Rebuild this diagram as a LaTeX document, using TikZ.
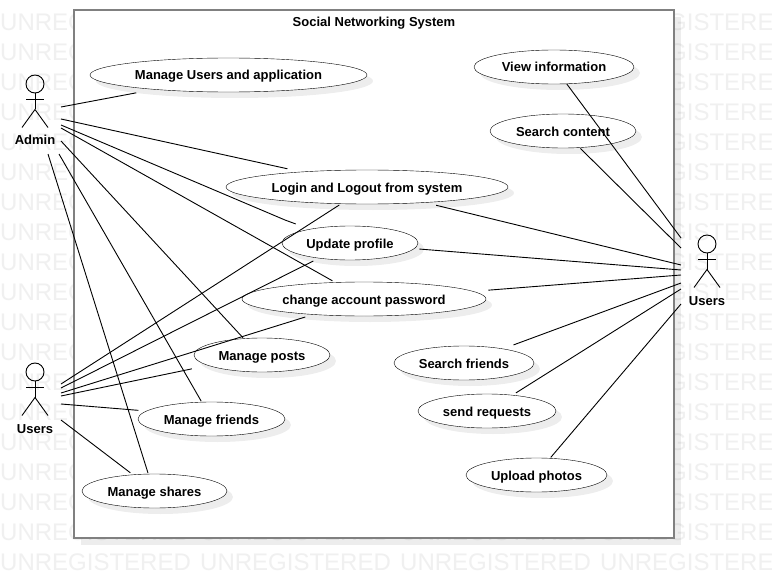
\documentclass[tikz,border=0pt]{standalone}
\usepackage{fontspec}
\setmainfont{Liberation Sans}
\usetikzlibrary{shapes.geometric, shadows}
\definecolor{framegray}{HTML}{808080}
\definecolor{markgray}{HTML}{F0F0F0}
\tikzset{%
	usecase/.style={draw, ellipse, inner sep=0mm, minimum height=34pt, fill=white,%
		text height=11pt, text depth=1pt, font=\fontsize{13}{15}\selectfont\bfseries,%
		drop shadow={shadow xshift=6pt, shadow yshift=-6pt, fill=black, opacity=0.07}},
	system/.style={draw=framegray, line width=2pt, rectangle, inner sep=0mm, fill=white,%
		minimum width=600pt, minimum height=528pt,%
		drop shadow={shadow xshift=7pt, shadow yshift=-7pt, fill=black, opacity=0.07}},
	caption/.style={inner sep=0mm, text height=11pt, text depth=1pt,%
		font=\fontsize{13}{15}\selectfont\bfseries},
	watermark/.style={inner sep=0mm, anchor=west, text=markgray, font=\fontsize{24}{28}\selectfont},
	connector/.style={line width=0.9pt},
	pics/actor/.style={code={
		\draw[connector] (0,0) circle[radius=9pt];
		\draw[connector] (-9,15) -- (9,15);
		\draw[connector] (0,9) -- (0,25.5);
		\draw[connector] (-13,43.5) -- (0,25.5) -- (13,43.5);
	}}
}
\begin{document}
\begin{tikzpicture}[x=1pt, y=-1pt]
	\useasboundingbox (0,0) rectangle (772,578);
	\fill[white] (0,0) rectangle (772,578);
	% watermark
	\foreach \y in {22,52,...,562}
		\foreach \x in {0,200,400,600}
			\node[watermark] (mark\x-\y) at (\x,\y) {UNREGISTERED};
	\node[system] (sys) at (374,274) {};
	\node[caption] (title) at (374,22) {Social Networking System};
	% actors
	\pic at (35,84) {actor};
	\pic at (35,372) {actor};
	\pic at (707,244) {actor};
	\node[caption] (admin) at (35,140) {Admin};
	\node[caption] (usersl) at (35,428) {Users};
	\node[caption] (usersr) at (707,300) {Users};
	% use cases
	\node[usecase, minimum width=277pt] (manage) at (228.5,75)  {Manage Users and application};
	\node[usecase, minimum width=160pt] (view)   at (554,67)    {View information};
	\node[usecase, minimum width=146pt] (search) at (563,131)   {Search content};
	\node[usecase, minimum width=282pt] (login)  at (367,187)   {Login and Logout from system};
	\node[usecase, minimum width=136pt] (update) at (350,243)   {Update profile};
	\node[usecase, minimum width=244pt] (change) at (364,299)   {change account password};
	\node[usecase, minimum width=136pt] (posts)  at (262,355)   {Manage posts};
	\node[usecase, minimum width=147pt] (friend) at (211.5,419) {Manage friends};
	\node[usecase, minimum width=145pt] (shares) at (154.5,491) {Manage shares};
	\node[usecase, minimum width=140pt] (sfind)  at (464,363)   {Search friends};
	\node[usecase, minimum width=138pt] (sendr)  at (487,411)   {send requests};
	\node[usecase, minimum width=141pt] (upload) at (536.5,475) {Upload photos};
	% free ends beside the actors
	\coordinate (a1) at (61,107);
	\coordinate (a2) at (61,119);
	\coordinate (a3) at (61,125);
	\coordinate (a4) at (61,128);
	\coordinate (a5) at (61,141);
	\coordinate (a6) at (59,154);
	\coordinate (a7) at (48,154);
	\coordinate (l1) at (61,384);
	\coordinate (l2) at (61,388);
	\coordinate (l3) at (61,393);
	\coordinate (l4) at (61,396);
	\coordinate (l5) at (61,404);
	\coordinate (l6) at (61,420);
	\coordinate (r1) at (681,238);
	\coordinate (r2) at (681,248);
	\coordinate (r3) at (681,265);
	\coordinate (r4) at (681,270);
	\coordinate (r5) at (681,275);
	\coordinate (r6) at (681,283);
	\coordinate (r7) at (681,289);
	\coordinate (r8) at (681,304);
	\coordinate (bend) at (285,220);
	% connectors
	\foreach \from/\uc/\gap in {a1/manage.191/18, a2/login.167.5/14,%
		a4/change.150.6/3, a5/posts.138.2/1, a6/friend.120.3/1, a7/shares.110/1,%
		l1/login.213.7/2, l2/update.206.6/6, l3/change.197.2/8, l4/posts.191.5/16.5,%
		l5/friend.173.9/8, l6/shares.143.7/3,%
		r1/view.307.4/0, r2/search.315/1, r3/login.345.8/11, r4/update.355/5,%
		r5/change.4.2/15, r6/sfind.20.2/11, r7/sendr.32.7/4, r8/upload.51.1/1}
		\draw[connector, shorten >=\gap pt] (\from) -- (\uc);
	\draw[connector, shorten >=15pt] (a3) -- (bend) -- (update.161.6);
\end{tikzpicture}
\end{document}
